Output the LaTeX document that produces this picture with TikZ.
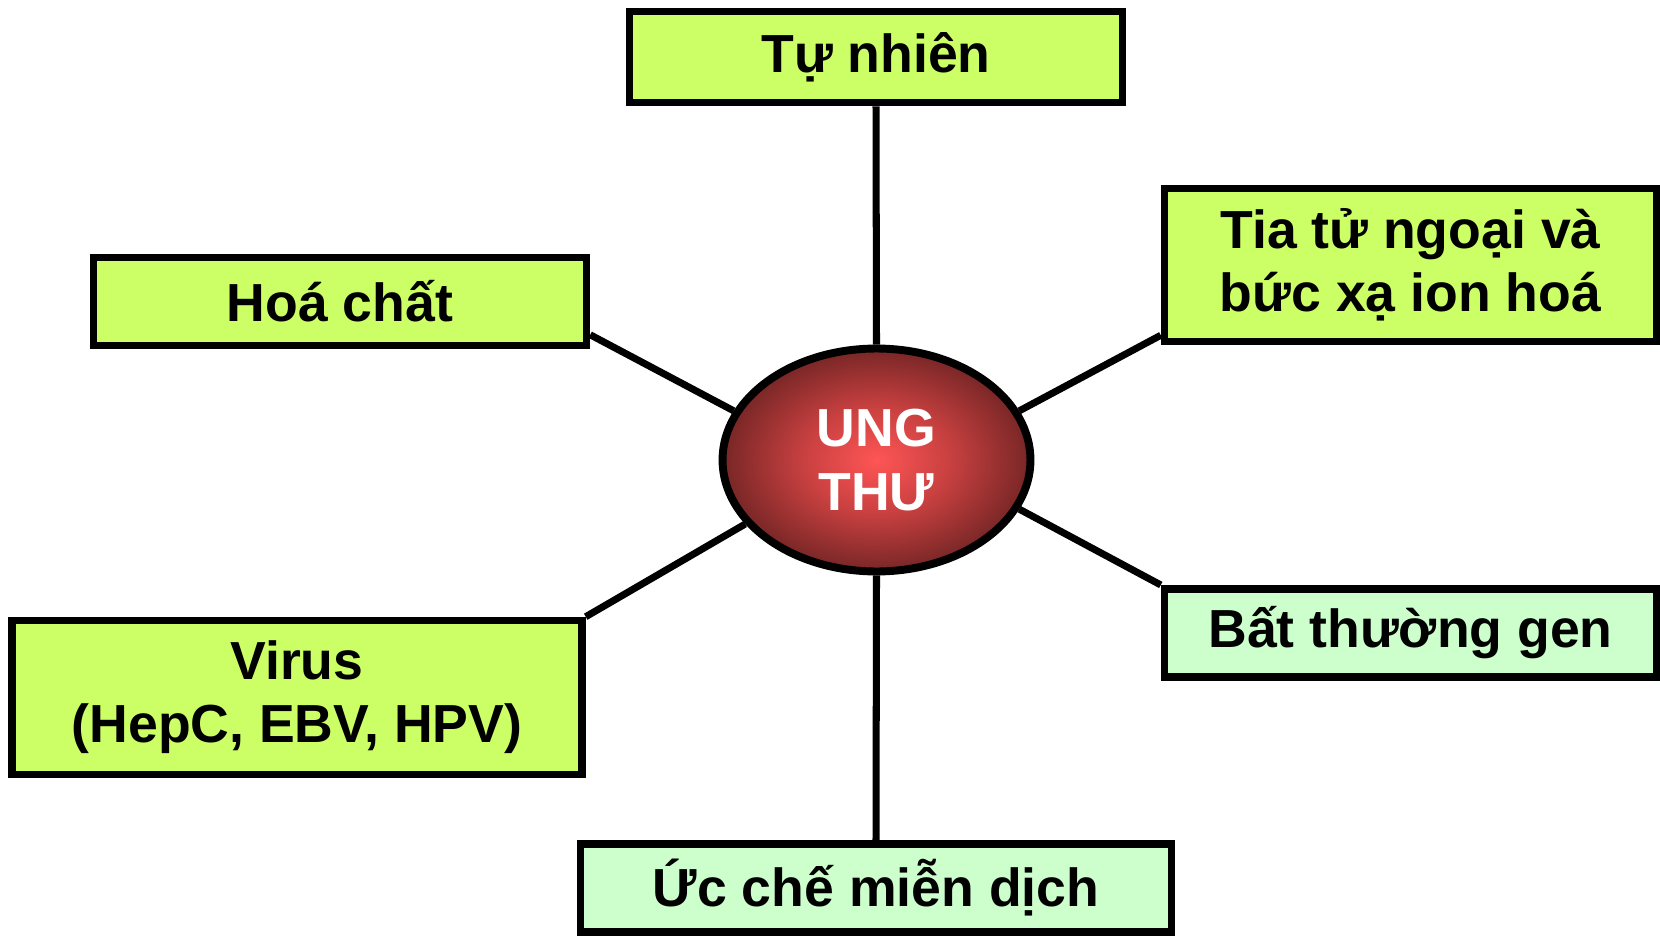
\documentclass[tikz,border=0pt]{standalone}
\usepackage{fontspec}
\setmainfont{Liberation Sans}
\usetikzlibrary{shapes.geometric}

\definecolor{boxlime}{HTML}{CCFF66}
\definecolor{boxmint}{HTML}{CCFFCC}
\definecolor{tumorin}{HTML}{FF5555}
\definecolor{tumormid}{HTML}{C84040}
\definecolor{tumorout}{HTML}{782626}

\pgfdeclareradialshading{tumorglow}{\pgfpoint{0bp}{0bp}}{%
  color(0bp)=(tumorin); color(12bp)=(tumormid); color(25bp)=(tumorout); color(50bp)=(tumorout)}

\begin{document}
\begin{tikzpicture}[x=0.02cm,y=-0.02cm,
    box/.style={draw,rectangle,line width=4.3pt,fill=boxlime,align=center,inner sep=0pt,
      font=\fontsize{30.5}{36}\selectfont\bfseries},
    link/.style={line width=4pt}]
      \useasboundingbox (0,0) rectangle (1660,936);

      \node[ellipse,draw,line width=4.5pt,shading=tumorglow,
        minimum width=6.16cm,minimum height=4.46cm,inner sep=0pt,align=center,text=white,
        font=\fontsize{30.5}{36}\selectfont\bfseries] (ung) at (876.5,460) {UNG\\THƯ};

      \node[box,minimum width=9.86cm,minimum height=1.82cm] (tunhien) at (876,57) {Tự nhiên};
      \node[box,minimum width=9.84cm,minimum height=3.06cm] (tiaxa) at (1410.5,265) {Tia tử ngoại và\\bức xạ ion hoá};
      \node[box,minimum width=9.86cm,minimum height=1.76cm] (hoachat) at (340,301.5) {Hoá chất};
      \node[box,minimum width=11.4cm,minimum height=3.08cm] (virus) at (297,697.5) {Virus\\(HepC, EBV, HPV)};
      \node[box,fill=boxmint,minimum width=9.84cm,minimum height=1.77cm] (gen) at (1410.5,633) {Bất thường gen};
      \node[box,fill=boxmint,minimum width=11.82cm,minimum height=1.76cm] (miendich) at (876,888) {Ức chế miễn dịch};

      \draw[link] (ung.north) -- (tunhien.south);
      \draw[link] (ung.south) -- (miendich.north);
      \draw[link] (ung.161) -- ([yshift=0.29cm]hoachat.south east);
      \draw[link] (ung.19) -- ([yshift=0.2cm]tiaxa.south west);
      \draw[link] (ung.206) -- (virus.north east);
      \draw[link] (ung.-19) -- (gen.north west);
    \end{tikzpicture}
\end{document}
